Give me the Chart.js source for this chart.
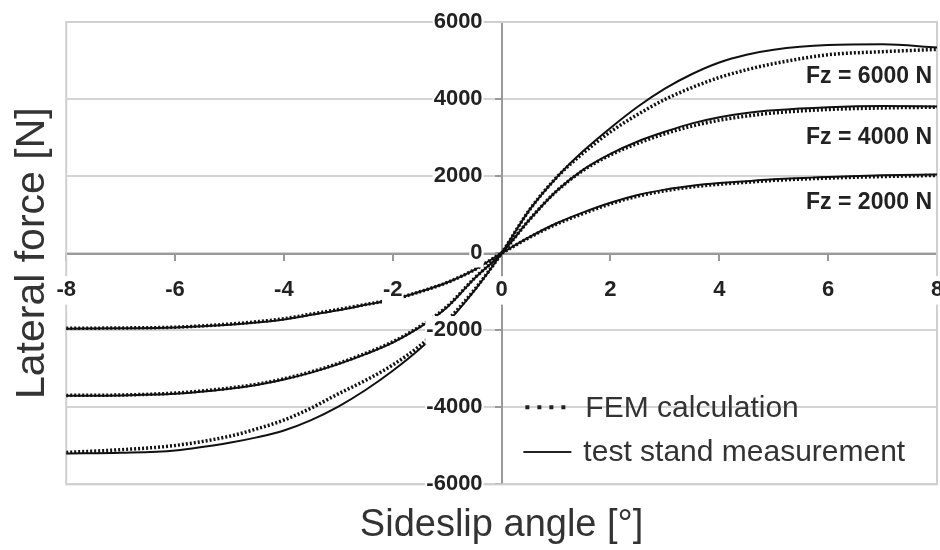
<!DOCTYPE html>
<html>
<head>
<meta charset="utf-8">
<title>Lateral force vs sideslip angle</title>
<script src="https://cdn.jsdelivr.net/npm/chart.js@4.4.0/dist/chart.umd.min.js"></script>
<style>
  html, body { margin: 0; padding: 0; background: #fff; }
  #wrap { width: 940px; height: 550px; }
</style>
</head>
<body>
<div id="wrap"><canvas id="myChart"></canvas></div>
<script>
// sideslip angle [deg]
const angles = [-8, -7, -6, -5, -4.5, -4, -3.5, -3, -2.5, -2, -1.5, -1, -0.5, 0, 0.5, 1, 1.5, 2, 2.5, 3, 3.5, 4, 4.5, 5, 6, 7, 8];

// lateral force [N]
const fem6000 = [-5170, -5100, -4990, -4750, -4560, -4330, -4020, -3650, -3300, -2900, -2400, -1750, -950, 0, 1100, 1950, 2600, 3150, 3600, 3990, 4300, 4560, 4760, 4920, 5150, 5230, 5290];
const meas6000 = [-5200, -5180, -5120, -4920, -4780, -4600, -4330, -3980, -3550, -3050, -2480, -1800, -970, 0, 1100, 1950, 2650, 3250, 3800, 4270, 4650, 4950, 5150, 5280, 5400, 5420, 5340];
const fem4000 = [-3690, -3680, -3630, -3500, -3400, -3260, -3080, -2860, -2600, -2300, -1900, -1380, -650, 0, 850, 1600, 2150, 2550, 2850, 3100, 3300, 3450, 3560, 3640, 3730, 3770, 3790];
const meas4000 = [-3700, -3690, -3650, -3520, -3420, -3280, -3100, -2880, -2620, -2320, -1920, -1400, -660, 0, 850, 1600, 2170, 2580, 2900, 3150, 3370, 3530, 3640, 3710, 3790, 3820, 3810];
const fem2000 = [-1950, -1940, -1920, -1840, -1780, -1700, -1580, -1460, -1330, -1200, -1000, -760, -430, 0, 400, 750, 1030, 1280, 1480, 1620, 1720, 1790, 1840, 1890, 1950, 1990, 2020];
const meas2000 = [-1960, -1950, -1930, -1860, -1800, -1720, -1600, -1480, -1340, -1200, -1000, -760, -430, 0, 410, 770, 1060, 1310, 1510, 1650, 1750, 1820, 1870, 1920, 1980, 2020, 2040];

const loadLabels = ['Fz = 6000 N', 'Fz = 4000 N', 'Fz = 2000 N'];
const legendLabels = ['FEM calculation', 'test stand measurement'];

const FONT = "'Liberation Sans', Arial, sans-serif";
const toPoints = arr => arr.map((v, i) => ({ x: angles[i], y: v }));

function femSet(vals) {
  return {
    label: legendLabels[0], data: toPoints(vals),
    borderColor: '#111', borderWidth: 3.5, borderDash: [2, 2],
    pointRadius: 0, cubicInterpolationMode: 'monotone', fill: false
  };
}
function measSet(vals) {
  return {
    label: legendLabels[1], data: toPoints(vals),
    borderColor: '#111', borderWidth: 2,
    pointRadius: 0, cubicInterpolationMode: 'monotone', fill: false
  };
}

// grey frame round the plot, load labels and the legend box
const decorations = {
  id: 'decorations',
  beforeDatasetsDraw(chart) {
    const { ctx, chartArea: a } = chart;
    ctx.save();
    ctx.strokeStyle = '#d0d0d0';
    ctx.lineWidth = 2;
    ctx.strokeRect(a.left, a.top, a.right - a.left, a.bottom - a.top);
    ctx.restore();
  },
  afterDraw(chart) {
    const { ctx, scales: { x, y } } = chart;
    ctx.save();
    // load labels, right aligned at the end of the x range
    ctx.font = 'bold 23px ' + FONT;
    ctx.fillStyle = '#222';
    ctx.textAlign = 'right';
    ctx.textBaseline = 'middle';
    const labelY = [4570, 3010, 1300];
    loadLabels.forEach((t, i) => {
      ctx.fillText(t, x.getPixelForValue(8) - 5, y.getPixelForValue(labelY[i]));
    });

    // legend
    const lx = x.getPixelForValue(0.4);
    const ly1 = y.getPixelForValue(-4000);
    const ly2 = y.getPixelForValue(-5160);
    ctx.strokeStyle = '#222';
    ctx.lineWidth = 4;
    ctx.setLineDash([4, 8]);
    ctx.beginPath(); ctx.moveTo(lx + 2, ly1); ctx.lineTo(lx + 44, ly1); ctx.stroke();
    ctx.setLineDash([]);
    ctx.lineWidth = 2;
    ctx.beginPath(); ctx.moveTo(lx, ly2); ctx.lineTo(lx + 48, ly2); ctx.stroke();
    ctx.font = '30px ' + FONT;
    ctx.fillStyle = '#333';
    ctx.textAlign = 'left';
    ctx.fillText(legendLabels[0], lx + 62, ly1 + 1);
    ctx.fillText(legendLabels[1], lx + 60, ly2 + 1);
    ctx.restore();
  }
};

const noPad = scale => { scale.paddingLeft = 0; scale.paddingRight = 0; scale.paddingTop = 0; scale.paddingBottom = 0; };

const ctx = document.getElementById('myChart').getContext('2d');
const myChart = new Chart(ctx, {
  type: 'line',
  data: {
    datasets: [
      femSet(fem6000), measSet(meas6000),
      femSet(fem4000), measSet(meas4000),
      femSet(fem2000), measSet(meas2000)
    ]
  },
  options: {
    responsive: true,
    maintainAspectRatio: false,
    animation: false,
    layout: { padding: { top: 22, right: 3, left: 0, bottom: 0 } },
    scales: {
      x: {
        type: 'linear',
        position: 'center',
        min: -8, max: 8,
        afterFit: noPad,
        ticks: {
          stepSize: 2, padding: 18, z: 1,
          color: '#222', font: { family: FONT, size: 22, weight: 'bold' },
          showLabelBackdrop: true, backdropColor: '#fff', backdropPadding: 1,
          callback: v => String(v)
        },
        grid: { drawOnChartArea: false, drawTicks: true, tickLength: 6, color: '#999', lineWidth: 2 },
        border: { display: true, color: '#999', width: 2 }
      },
      y: {
        type: 'linear',
        position: 'center',
        min: -6000, max: 6000,
        afterFit: noPad,
        ticks: {
          stepSize: 2000, padding: 13, z: 1,
          color: '#222', font: { family: FONT, size: 22, weight: 'bold' },
          showLabelBackdrop: true, backdropColor: '#fff', backdropPadding: 1,
          callback: v => String(v)
        },
        grid: { color: '#d4d4d4', lineWidth: 2, tickLength: 6, tickColor: '#999' },
        border: { display: true, color: '#999', width: 2 }
      }
    },
    plugins: {
      legend: { display: false },
      tooltip: { enabled: false },
      title: {
        display: true, text: 'Lateral force [N]', position: 'left', fullSize: false,
        color: '#333', font: { family: FONT, size: 41, weight: 'normal' },
        padding: { top: 8, bottom: 9 }
      },
      subtitle: {
        display: true, text: 'Sideslip angle [°]', position: 'bottom', fullSize: false,
        color: '#333', font: { family: FONT, size: 38, weight: 'normal' },
        padding: { top: 18, bottom: 2 }
      }
    }
  },
  plugins: [decorations]
});
</script>
</body>
</html>
